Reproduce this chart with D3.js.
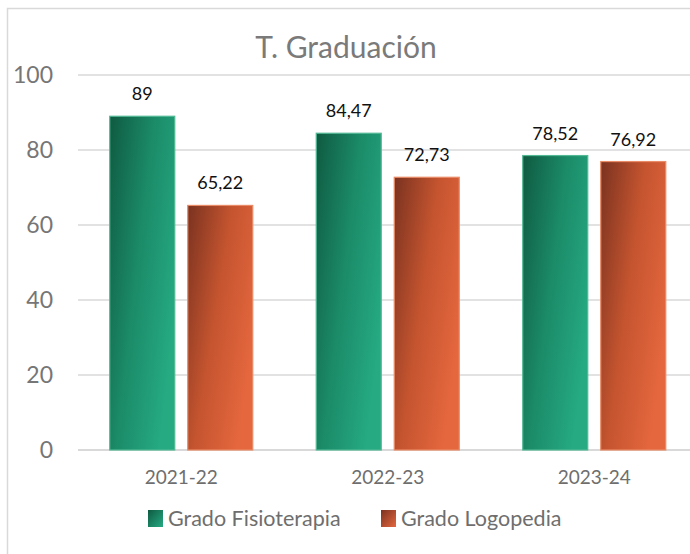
<!DOCTYPE html>
<html>
<head>
<meta charset="utf-8">
<script src="https://cdn.jsdelivr.net/npm/d3@7"></script>
<style>
  body { margin: 0; background: #fff; }
  svg { display: block; font-family: Lato, "Noto Sans", sans-serif; }
</style>
</head>
<body>
<svg id="chart" width="690" height="554"></svg>
<script>
(function(){

    var years = ["2021-22", "2022-23", "2023-24"];
    var series = ["Grado Fisioterapia", "Grado Logopedia"];
    var fisioterapia = [89, 84.47, 78.52];
    var logopedia = [65.22, 72.73, 76.92];
    var yTicks = [0, 20, 40, 60, 80, 100];

    var svg = d3.select("#chart"),
        margin = { top: 75, left: 78 },
        plotRight = 697.5,
        plotBottom = 450;

    var data = years.map(function (y, i) {
        return { year: y, values: [
            { key: series[0], value: fisioterapia[i] },
            { key: series[1], value: logopedia[i] }
        ]};
    });

    // gradients
    var defs = svg.append("defs");
    var grads = [
        { id: "g0", stops: ["#0f5a41", "#1b8a67", "#25aa82"] },
        { id: "g1", stops: ["#7a3220", "#c4542f", "#e5673e"] }
    ];
    grads.forEach(function (gr) {
        var lg = defs.append("linearGradient").attr("id", gr.id)
            .attr("x1", 0).attr("y1", 0).attr("x2", 1).attr("y2", 0.6);
        gr.stops.forEach(function (c, i) {
            lg.append("stop").attr("offset", i / (gr.stops.length - 1)).attr("stop-color", c);
        });
        var ll = defs.append("linearGradient").attr("id", "l" + gr.id)
            .attr("x1", 0).attr("y1", 0).attr("x2", 1).attr("y2", 1);
        ll.append("stop").attr("offset", 0).attr("stop-color", gr.stops[0]);
        ll.append("stop").attr("offset", 1).attr("stop-color", gr.stops[2]);
    });
    var z = d3.scaleOrdinal().domain(series).range(["url(#g0)", "url(#g1)"]);
    var edge = d3.scaleOrdinal().domain(series).range(["#52b994", "#e98b66"]);
    var legendFill = d3.scaleOrdinal().domain(series).range(["url(#lg0)", "url(#lg1)"]);

    // frame (cut off at the right and bottom)
    svg.append("rect")
        .attr("x", 7.5).attr("y", 8.5)
        .attr("width", 700).attr("height", 560)
        .attr("fill", "none")
        .attr("stroke", "#d9d9d9")
        .attr("stroke-width", 1.5);

    var x0 = d3.scaleBand().domain(years).range([margin.left, plotRight]).padding(0);
    var x1 = d3.scaleBand().domain(series).range([0, x0.bandwidth()])
        .paddingInner(0.1667).paddingOuter(0.407);
    var y = d3.scaleLinear().domain([0, 100]).range([plotBottom, margin.top]);

    // grid
    svg.append("g").selectAll("line")
        .data(yTicks)
        .enter().append("line")
        .attr("x1", margin.left).attr("x2", 690)
        .attr("y1", function (d) { return y(d); })
        .attr("y2", function (d) { return y(d); })
        .attr("stroke", "#d9d9d9")
        .attr("stroke-width", function (d) { return d === 0 ? 2 : 1.5; });

    // y labels
    svg.append("g").selectAll("text")
        .data(yTicks)
        .enter().append("text")
        .attr("x", 53)
        .attr("y", function (d) { return y(d); })
        .attr("dy", "0.36em")
        .attr("text-anchor", "end")
        .attr("fill", "#767676")
        .style("font-size", "23px")
        .text(function (d) { return d; });

    // title
    svg.append("text")
        .attr("x", 346).attr("y", 58)
        .attr("text-anchor", "middle")
        .attr("fill", "#7a7a7a")
        .style("font-size", "30px")
        .text("T. Graduación");

    var group = svg.selectAll(".year")
        .data(data)
        .enter().append("g")
        .attr("class", "year")
        .attr("transform", function (d) { return "translate(" + x0(d.year) + ",0)"; });

    group.selectAll("rect")
        .data(function (d) { return d.values; })
        .enter().append("rect")
        .attr("x", function (d) { return x1(d.key); })
        .attr("y", function (d) { return y(d.value); })
        .attr("width", x1.bandwidth())
        .attr("height", function (d) { return plotBottom - y(d.value); })
        .attr("fill", function (d) { return z(d.key); })
        .attr("stroke", function (d) { return edge(d.key); })
        .attr("stroke-width", 1.2);

    group.selectAll(".lbl")
        .data(function (d) { return d.values; })
        .enter().append("text")
        .attr("class", "lbl")
        .attr("x", function (d) { return x1(d.key) + x1.bandwidth() / 2; })
        .attr("y", function (d) { return y(d.value) - 16; })
        .attr("text-anchor", "middle")
        .attr("fill", "#111")
        .style("font-size", "18px")
        .text(function (d) { return String(d.value).replace(".", ","); });

    // x labels
    svg.append("g").selectAll("text")
        .data(years)
        .enter().append("text")
        .attr("x", function (d) { return x0(d) + x0.bandwidth() / 2; })
        .attr("y", 484)
        .attr("text-anchor", "middle")
        .attr("fill", "#6e6e6e")
        .style("font-size", "19px")
        .text(function (d) { return d; });

    // legend
    var legendX = [148, 381];
    var legend = svg.selectAll(".legend")
        .data(series)
        .enter().append("g")
        .attr("class", "legend")
        .attr("transform", function (d, i) { return "translate(" + legendX[i] + ",510)"; });

    legend.append("rect")
        .attr("width", 15).attr("height", 17)
        .attr("fill", function (d) { return legendFill(d); });

    legend.append("text")
        .attr("x", 20).attr("y", 16)
        .attr("fill", "#6e6e6e")
        .style("font-size", "21.5px")
        .text(function (d) { return d; });

})();
</script>
</body>
</html>
